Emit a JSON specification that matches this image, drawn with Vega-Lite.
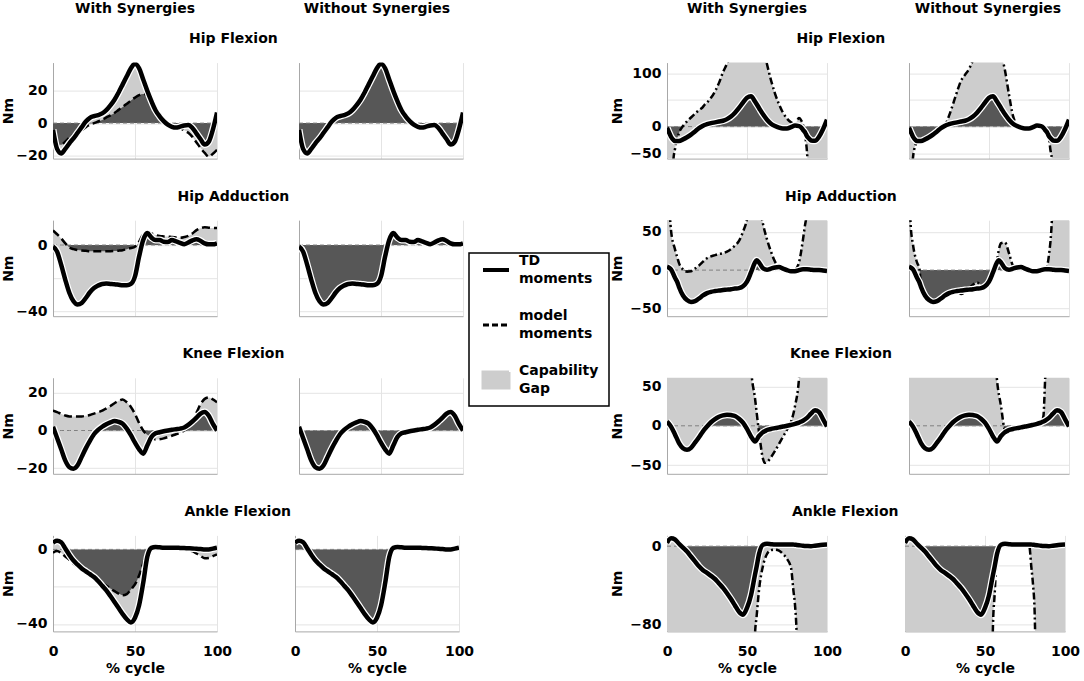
{
  "$schema": "https://vega.github.io/schema/vega-lite/v6.json",
  "background": "white",
  "padding": {"top": 2, "left": 1, "right": 0, "bottom": 0},
  "spacing": 136,
  "hconcat": [
    {
      "spacing": 15.6,
      "vconcat": [
        {
          "spacing": 78,
          "hconcat": [
            {"title": {"text": "With Synergies", "offset": -4}, "width": 164, "height": 1, "data": {"values": [{}]}, "mark": {"type": "rect", "opacity": 0}},
            {"title": {"text": "Without Synergies", "offset": -4}, "width": 164, "height": 1, "data": {"values": [{}]}, "mark": {"type": "rect", "opacity": 0}}
          ]
        },
        {
          "title": "Hip Flexion",
          "spacing": 78,
          "hconcat": [
            {
              "width": 164, "height": 96, "data": {"name": "hfA"},
              "encoding": {
                "x": {"field": "x", "type": "quantitative", "scale": {"domain": [0, 100], "nice": false}, "axis": {"values": [0, 50, 100], "labels": false, "title": null, "ticks": true, "tickSize": 15, "tickOpacity": 0}},
                "y": {"field": "td", "type": "quantitative", "scale": {"domain": [-22, 37.5], "nice": false, "zero": false}, "axis": {"values": [-20, 0, 20], "title": "Nm"}}
              },
              "layer": [
                {"mark": {"type": "area", "interpolate": "monotone", "color": "#575757", "clip": true}, "encoding": {"y2": {"datum": 0}}},
                {"transform": [{"filter": "isValid(datum.w)"}], "mark": {"type": "area", "interpolate": "monotone", "clip": true, "opacity": 1},
                 "encoding": {"y2": {"field": "w"}, "color": {"datum": "Capability Gap",
                   "scale": {"domain": ["TD moments", "model moments", "Capability Gap"], "range": ["black", "black", "#cdcdcd"]},
                   "legend": {
                     "orient": "none", "legendX": 416, "legendY": 241, "title": null, "padding": 10, "rowPadding": 23,
                     "symbolSize": 676, "symbolOffset": 10, "labelOffset": 16, "labelFont": "DejaVu Sans", "labelFontSize": 14,
                     "labelFontWeight": "bold", "labelColor": "black", "labelLimit": 300, "strokeColor": "black", "fillColor": "white",
                     "encoding": {
                       "legend": {"strokeWidth": {"value": 1.5}},
                       "symbols": {
                         "shape": {"value": {"expr": "datum.value === 'Capability Gap' ? 'M-1,-0.62H1V0.62H-1Z' : 'stroke'"}},
                         "fill": {"value": {"expr": "datum.value === 'Capability Gap' ? '#d0d1c9' : 'transparent'"}},
                         "stroke": {"value": {"expr": "datum.value === 'Capability Gap' ? 'transparent' : 'black'"}},
                         "strokeWidth": {"value": {"expr": "datum.value === 'TD moments' ? 4 : 3"}},
                         "strokeDash": {"value": {"expr": "datum.value === 'model moments' ? [6, 3] : [1, 0]"}},
                         "opacity": {"value": 1}
                       },
                       "labels": {"text": {"value": {"expr": "split(datum.label, ' ')"}}, "lineHeight": {"value": 18}, "dy": {"value": -9}}
                     }
                   }}}},
                {"mark": {"type": "line", "color": "#808080", "strokeWidth": 1, "strokeDash": [4, 3]}, "encoding": {"y": {"datum": 0}}},
                {"transform": [{"filter": "isValid(datum.w)"}], "mark": {"type": "line", "interpolate": "monotone", "strokeWidth": 2.5, "strokeDash": [8, 4], "clip": true},
                 "encoding": {"y": {"field": "w", "type": "quantitative", "scale": {"domain": [-22, 37.5], "nice": false, "zero": false}}, "color": {"datum": "model moments"}}},
                {"mark": {"type": "line", "interpolate": "monotone", "strokeWidth": 7, "color": "white", "clip": true}},
                {"mark": {"type": "line", "interpolate": "monotone", "strokeWidth": 4.5, "clip": true}, "encoding": {"color": {"datum": "TD moments"}}}
              ]
            },
            {
              "width": 164, "height": 96, "data": {"name": "hfA"},
              "encoding": {
                "x": {"field": "x", "type": "quantitative", "scale": {"domain": [0, 100], "nice": false}, "axis": {"values": [0, 50, 100], "labels": false, "title": null, "ticks": true, "tickSize": 15, "tickOpacity": 0}},
                "y": {"field": "td", "type": "quantitative", "scale": {"domain": [-22, 37.5], "nice": false, "zero": false}, "axis": {"values": [-20, 0, 20], "labels": false, "title": null}}
              },
              "layer": [
                {"mark": {"type": "area", "interpolate": "monotone", "color": "#575757", "clip": true}, "encoding": {"y2": {"datum": 0}}},
                {"mark": {"type": "line", "color": "#808080", "strokeWidth": 1, "strokeDash": [4, 3]}, "encoding": {"y": {"datum": 0}}},
                {"mark": {"type": "line", "interpolate": "monotone", "strokeWidth": 7, "color": "white", "clip": true}},
                {"mark": {"type": "line", "interpolate": "monotone", "strokeWidth": 4.5, "clip": true}, "encoding": {"color": {"datum": "TD moments"}}}
              ]
            }
          ]
        },
        {
          "title": "Hip Adduction",
          "spacing": 78,
          "hconcat": [
            {
              "width": 164, "height": 96, "data": {"name": "haA"},
              "encoding": {
                "x": {"field": "x", "type": "quantitative", "scale": {"domain": [0, 100], "nice": false}, "axis": {"values": [0, 50, 100], "labels": false, "title": null, "ticks": true, "tickSize": 15, "tickOpacity": 0}},
                "y": {"field": "td", "type": "quantitative", "scale": {"domain": [-43, 15], "nice": false, "zero": false}, "axis": {"values": [-40, -20, 0], "labelExpr": "datum.value == -20 ? '' : datum.label", "title": "Nm"}}
              },
              "layer": [
                {"mark": {"type": "area", "interpolate": "monotone", "color": "#575757", "clip": true}, "encoding": {"y2": {"datum": 0}}},
                {"transform": [{"filter": "isValid(datum.w)"}], "mark": {"type": "area", "interpolate": "monotone", "clip": true}, "encoding": {"y2": {"field": "w"}, "color": {"datum": "Capability Gap"}}},
                {"mark": {"type": "line", "color": "#808080", "strokeWidth": 1, "strokeDash": [4, 3]}, "encoding": {"y": {"datum": 0}}},
                {"transform": [{"filter": "isValid(datum.w)"}], "mark": {"type": "line", "interpolate": "monotone", "strokeWidth": 2.5, "strokeDash": [8, 4], "clip": true},
                 "encoding": {"y": {"field": "w", "type": "quantitative", "scale": {"domain": [-43, 15], "nice": false, "zero": false}}, "color": {"datum": "model moments"}}},
                {"mark": {"type": "line", "interpolate": "monotone", "strokeWidth": 7, "color": "white", "clip": true}},
                {"mark": {"type": "line", "interpolate": "monotone", "strokeWidth": 4.5, "clip": true}, "encoding": {"color": {"datum": "TD moments"}}}
              ]
            },
            {
              "width": 164, "height": 96, "data": {"name": "haA"},
              "encoding": {
                "x": {"field": "x", "type": "quantitative", "scale": {"domain": [0, 100], "nice": false}, "axis": {"values": [0, 50, 100], "labels": false, "title": null, "ticks": true, "tickSize": 15, "tickOpacity": 0}},
                "y": {"field": "td", "type": "quantitative", "scale": {"domain": [-43, 15], "nice": false, "zero": false}, "axis": {"values": [-40, -20, 0], "labels": false, "title": null}}
              },
              "layer": [
                {"mark": {"type": "area", "interpolate": "monotone", "color": "#575757", "clip": true}, "encoding": {"y2": {"datum": 0}}},
                {"mark": {"type": "line", "color": "#808080", "strokeWidth": 1, "strokeDash": [4, 3]}, "encoding": {"y": {"datum": 0}}},
                {"mark": {"type": "line", "interpolate": "monotone", "strokeWidth": 7, "color": "white", "clip": true}},
                {"mark": {"type": "line", "interpolate": "monotone", "strokeWidth": 4.5, "clip": true}, "encoding": {"color": {"datum": "TD moments"}}}
              ]
            }
          ]
        },
        {
          "title": "Knee Flexion",
          "spacing": 78,
          "hconcat": [
            {
              "width": 164, "height": 96, "data": {"name": "knA"},
              "encoding": {
                "x": {"field": "x", "type": "quantitative", "scale": {"domain": [0, 100], "nice": false}, "axis": {"values": [0, 50, 100], "labels": false, "title": null, "ticks": true, "tickSize": 15, "tickOpacity": 0}},
                "y": {"field": "td", "type": "quantitative", "scale": {"domain": [-23, 28], "nice": false, "zero": false}, "axis": {"values": [-20, 0, 20], "title": "Nm"}}
              },
              "layer": [
                {"mark": {"type": "area", "interpolate": "monotone", "color": "#575757", "clip": true}, "encoding": {"y2": {"datum": 0}}},
                {"transform": [{"filter": "isValid(datum.w)"}], "mark": {"type": "area", "interpolate": "monotone", "clip": true}, "encoding": {"y2": {"field": "w"}, "color": {"datum": "Capability Gap"}}},
                {"mark": {"type": "line", "color": "#808080", "strokeWidth": 1, "strokeDash": [4, 3]}, "encoding": {"y": {"datum": 0}}},
                {"transform": [{"filter": "isValid(datum.w)"}], "mark": {"type": "line", "interpolate": "monotone", "strokeWidth": 2.5, "strokeDash": [8, 4], "clip": true},
                 "encoding": {"y": {"field": "w", "type": "quantitative", "scale": {"domain": [-23, 28], "nice": false, "zero": false}}, "color": {"datum": "model moments"}}},
                {"mark": {"type": "line", "interpolate": "monotone", "strokeWidth": 7, "color": "white", "clip": true}},
                {"mark": {"type": "line", "interpolate": "monotone", "strokeWidth": 4.5, "clip": true}, "encoding": {"color": {"datum": "TD moments"}}}
              ]
            },
            {
              "width": 164, "height": 96, "data": {"name": "knA"},
              "encoding": {
                "x": {"field": "x", "type": "quantitative", "scale": {"domain": [0, 100], "nice": false}, "axis": {"values": [0, 50, 100], "labels": false, "title": null, "ticks": true, "tickSize": 15, "tickOpacity": 0}},
                "y": {"field": "td", "type": "quantitative", "scale": {"domain": [-23, 28], "nice": false, "zero": false}, "axis": {"values": [-20, 0, 20], "labels": false, "title": null}}
              },
              "layer": [
                {"mark": {"type": "area", "interpolate": "monotone", "color": "#575757", "clip": true}, "encoding": {"y2": {"datum": 0}}},
                {"mark": {"type": "line", "color": "#808080", "strokeWidth": 1, "strokeDash": [4, 3]}, "encoding": {"y": {"datum": 0}}},
                {"mark": {"type": "line", "interpolate": "monotone", "strokeWidth": 7, "color": "white", "clip": true}},
                {"mark": {"type": "line", "interpolate": "monotone", "strokeWidth": 4.5, "clip": true}, "encoding": {"color": {"datum": "TD moments"}}}
              ]
            }
          ]
        },
        {
          "title": "Ankle Flexion",
          "spacing": 58,
          "hconcat": [
            {
              "width": 164, "height": 96, "data": {"name": "anA"},
              "encoding": {
                "x": {"field": "x", "type": "quantitative", "scale": {"domain": [0, 100], "nice": false}, "axis": {"values": [0, 50, 100], "title": "% cycle", "labelFlush": false}},
                "y": {"field": "td", "type": "quantitative", "scale": {"domain": [-44, 7.5], "nice": false, "zero": false}, "axis": {"values": [-40, -20, 0], "labelExpr": "datum.value == -20 ? '' : datum.label", "title": "Nm"}}
              },
              "layer": [
                {"mark": {"type": "area", "interpolate": "monotone", "color": "#575757", "clip": true}, "encoding": {"y2": {"datum": 0}}},
                {"transform": [{"filter": "isValid(datum.w)"}], "mark": {"type": "area", "interpolate": "monotone", "clip": true}, "encoding": {"y2": {"field": "w"}, "color": {"datum": "Capability Gap"}}},
                {"mark": {"type": "line", "color": "#808080", "strokeWidth": 1, "strokeDash": [4, 3]}, "encoding": {"y": {"datum": 0}}},
                {"transform": [{"filter": "isValid(datum.w)"}], "mark": {"type": "line", "interpolate": "monotone", "strokeWidth": 2.5, "strokeDash": [8, 4], "clip": true},
                 "encoding": {"y": {"field": "w", "type": "quantitative", "scale": {"domain": [-44, 7.5], "nice": false, "zero": false}}, "color": {"datum": "model moments"}}},
                {"mark": {"type": "line", "interpolate": "monotone", "strokeWidth": 7, "color": "white", "clip": true}},
                {"mark": {"type": "line", "interpolate": "monotone", "strokeWidth": 4.5, "clip": true}, "encoding": {"color": {"datum": "TD moments"}}}
              ]
            },
            {
              "width": 164, "height": 96, "data": {"name": "anA"},
              "encoding": {
                "x": {"field": "x", "type": "quantitative", "scale": {"domain": [0, 100], "nice": false}, "axis": {"values": [0, 50, 100], "title": "% cycle", "labelFlush": false}},
                "y": {"field": "td", "type": "quantitative", "scale": {"domain": [-44, 7.5], "nice": false, "zero": false}, "axis": {"values": [-40, -20, 0], "labels": false, "title": null}}
              },
              "layer": [
                {"mark": {"type": "area", "interpolate": "monotone", "color": "#575757", "clip": true}, "encoding": {"y2": {"datum": 0}}},
                {"mark": {"type": "line", "color": "#808080", "strokeWidth": 1, "strokeDash": [4, 3]}, "encoding": {"y": {"datum": 0}}},
                {"mark": {"type": "line", "interpolate": "monotone", "strokeWidth": 7, "color": "white", "clip": true}},
                {"mark": {"type": "line", "interpolate": "monotone", "strokeWidth": 4.5, "clip": true}, "encoding": {"color": {"datum": "TD moments"}}}
              ]
            }
          ]
        }
      ]
    },
    {
      "spacing": 15.6,
      "vconcat": [
        {
          "spacing": 81,
          "hconcat": [
            {"title": {"text": "With Synergies", "offset": -4}, "width": 160, "height": 1, "data": {"values": [{}]}, "mark": {"type": "rect", "opacity": 0}},
            {"title": {"text": "Without Synergies", "offset": -4}, "width": 160, "height": 1, "data": {"values": [{}]}, "mark": {"type": "rect", "opacity": 0}}
          ]
        },
        {
          "title": "Hip Flexion",
          "spacing": 78,
          "hconcat": [
            {
              "width": 160, "height": 96, "data": {"name": "hfB"},
              "encoding": {
                "x": {"field": "x", "type": "quantitative", "scale": {"domain": [0, 100], "nice": false}, "axis": {"values": [0, 50, 100], "labels": false, "title": null, "ticks": true, "tickSize": 15, "tickOpacity": 0}},
                "y": {"field": "td", "type": "quantitative", "scale": {"domain": [-60, 120], "nice": false, "zero": false}, "axis": {"values": [-50, 0, 50, 100], "labelExpr": "datum.value == 50 ? '' : datum.label", "title": "Nm", "titlePadding": 5}}
              },
              "layer": [
                {"mark": {"type": "area", "interpolate": "monotone", "color": "#575757", "clip": true}, "encoding": {"y2": {"datum": 0}}},
                {"transform": [{"filter": "isValid(datum.w)"}], "mark": {"type": "area", "interpolate": "monotone", "clip": true}, "encoding": {"y2": {"field": "w"}, "color": {"datum": "Capability Gap"}}},
                {"mark": {"type": "line", "color": "#808080", "strokeWidth": 1, "strokeDash": [4, 3]}, "encoding": {"y": {"datum": 0}}},
                {"transform": [{"filter": "isValid(datum.w)"}], "mark": {"type": "line", "interpolate": "monotone", "strokeWidth": 2.5, "strokeDash": [7, 3, 2, 3], "clip": true},
                 "encoding": {"y": {"field": "w", "type": "quantitative", "scale": {"domain": [-60, 120], "nice": false, "zero": false}}, "color": {"datum": "model moments"}}},
                {"mark": {"type": "line", "interpolate": "monotone", "strokeWidth": 7, "color": "white", "clip": true}},
                {"mark": {"type": "line", "interpolate": "monotone", "strokeWidth": 4.5, "clip": true}, "encoding": {"color": {"datum": "TD moments"}}}
              ]
            },
            {
              "width": 160, "height": 96, "data": {"name": "hfB"},
              "encoding": {
                "x": {"field": "x", "type": "quantitative", "scale": {"domain": [0, 100], "nice": false}, "axis": {"values": [0, 50, 100], "labels": false, "title": null, "ticks": true, "tickSize": 15, "tickOpacity": 0}},
                "y": {"field": "td", "type": "quantitative", "scale": {"domain": [-60, 120], "nice": false, "zero": false}, "axis": {"values": [-50, 0, 50, 100], "labels": false, "title": null}}
              },
              "layer": [
                {"mark": {"type": "area", "interpolate": "monotone", "color": "#575757", "clip": true}, "encoding": {"y2": {"datum": 0}}},
                {"transform": [{"filter": "isValid(datum.wo)"}], "mark": {"type": "area", "interpolate": "monotone", "clip": true}, "encoding": {"y2": {"field": "wo"}, "color": {"datum": "Capability Gap"}}},
                {"mark": {"type": "line", "color": "#808080", "strokeWidth": 1, "strokeDash": [4, 3]}, "encoding": {"y": {"datum": 0}}},
                {"transform": [{"filter": "isValid(datum.wo)"}], "mark": {"type": "line", "interpolate": "monotone", "strokeWidth": 2.5, "strokeDash": [7, 3, 2, 3], "clip": true},
                 "encoding": {"y": {"field": "wo", "type": "quantitative", "scale": {"domain": [-60, 120], "nice": false, "zero": false}}, "color": {"datum": "model moments"}}},
                {"mark": {"type": "line", "interpolate": "monotone", "strokeWidth": 7, "color": "white", "clip": true}},
                {"mark": {"type": "line", "interpolate": "monotone", "strokeWidth": 4.5, "clip": true}, "encoding": {"color": {"datum": "TD moments"}}}
              ]
            }
          ]
        },
        {
          "title": "Hip Adduction",
          "spacing": 78,
          "hconcat": [
            {
              "width": 160, "height": 96, "data": {"name": "haB"},
              "encoding": {
                "x": {"field": "x", "type": "quantitative", "scale": {"domain": [0, 100], "nice": false}, "axis": {"values": [0, 50, 100], "labels": false, "title": null, "ticks": true, "tickSize": 15, "tickOpacity": 0}},
                "y": {"field": "td", "type": "quantitative", "scale": {"domain": [-60, 65], "nice": false, "zero": false}, "axis": {"values": [-50, 0, 50], "title": "Nm", "titlePadding": 5}}
              },
              "layer": [
                {"mark": {"type": "area", "interpolate": "monotone", "color": "#575757", "clip": true}, "encoding": {"y2": {"datum": 0}}},
                {"transform": [{"filter": "isValid(datum.w)"}], "mark": {"type": "area", "interpolate": "monotone", "clip": true}, "encoding": {"y2": {"field": "w"}, "color": {"datum": "Capability Gap"}}},
                {"mark": {"type": "line", "color": "#808080", "strokeWidth": 1, "strokeDash": [4, 3]}, "encoding": {"y": {"datum": 0}}},
                {"transform": [{"filter": "isValid(datum.w)"}], "mark": {"type": "line", "interpolate": "monotone", "strokeWidth": 2.5, "strokeDash": [7, 3, 2, 3], "clip": true},
                 "encoding": {"y": {"field": "w", "type": "quantitative", "scale": {"domain": [-60, 65], "nice": false, "zero": false}}, "color": {"datum": "model moments"}}},
                {"mark": {"type": "line", "interpolate": "monotone", "strokeWidth": 7, "color": "white", "clip": true}},
                {"mark": {"type": "line", "interpolate": "monotone", "strokeWidth": 4.5, "clip": true}, "encoding": {"color": {"datum": "TD moments"}}}
              ]
            },
            {
              "width": 160, "height": 96, "data": {"name": "haB"},
              "encoding": {
                "x": {"field": "x", "type": "quantitative", "scale": {"domain": [0, 100], "nice": false}, "axis": {"values": [0, 50, 100], "labels": false, "title": null, "ticks": true, "tickSize": 15, "tickOpacity": 0}},
                "y": {"field": "td", "type": "quantitative", "scale": {"domain": [-60, 65], "nice": false, "zero": false}, "axis": {"values": [-50, 0, 50], "labels": false, "title": null}}
              },
              "layer": [
                {"mark": {"type": "area", "interpolate": "monotone", "color": "#575757", "clip": true}, "encoding": {"y2": {"datum": 0}}},
                {"transform": [{"filter": "isValid(datum.wo)"}], "mark": {"type": "area", "interpolate": "monotone", "clip": true}, "encoding": {"y2": {"field": "wo"}, "color": {"datum": "Capability Gap"}}},
                {"mark": {"type": "line", "color": "#808080", "strokeWidth": 1, "strokeDash": [4, 3]}, "encoding": {"y": {"datum": 0}}},
                {"transform": [{"filter": "isValid(datum.wo)"}], "mark": {"type": "line", "interpolate": "monotone", "strokeWidth": 2.5, "strokeDash": [7, 3, 2, 3], "clip": true},
                 "encoding": {"y": {"field": "wo", "type": "quantitative", "scale": {"domain": [-60, 65], "nice": false, "zero": false}}, "color": {"datum": "model moments"}}},
                {"mark": {"type": "line", "interpolate": "monotone", "strokeWidth": 7, "color": "white", "clip": true}},
                {"mark": {"type": "line", "interpolate": "monotone", "strokeWidth": 4.5, "clip": true}, "encoding": {"color": {"datum": "TD moments"}}}
              ]
            }
          ]
        },
        {
          "title": "Knee Flexion",
          "spacing": 78,
          "hconcat": [
            {
              "width": 160, "height": 96, "data": {"name": "knB"},
              "encoding": {
                "x": {"field": "x", "type": "quantitative", "scale": {"domain": [0, 100], "nice": false}, "axis": {"values": [0, 50, 100], "labels": false, "title": null, "ticks": true, "tickSize": 15, "tickOpacity": 0}},
                "y": {"field": "td", "type": "quantitative", "scale": {"domain": [-61, 61], "nice": false, "zero": false}, "axis": {"values": [-50, 0, 50], "title": "Nm", "titlePadding": 5}}
              },
              "layer": [
                {"mark": {"type": "area", "interpolate": "monotone", "color": "#575757", "clip": true}, "encoding": {"y2": {"datum": 0}}},
                {"transform": [{"filter": "isValid(datum.w)"}], "mark": {"type": "area", "interpolate": "monotone", "clip": true}, "encoding": {"y2": {"field": "w"}, "color": {"datum": "Capability Gap"}}},
                {"mark": {"type": "line", "color": "#808080", "strokeWidth": 1, "strokeDash": [4, 3]}, "encoding": {"y": {"datum": 0}}},
                {"transform": [{"filter": "isValid(datum.w)"}], "mark": {"type": "line", "interpolate": "monotone", "strokeWidth": 2.5, "strokeDash": [7, 3, 2, 3], "clip": true},
                 "encoding": {"y": {"field": "w", "type": "quantitative", "scale": {"domain": [-61, 61], "nice": false, "zero": false}}, "color": {"datum": "model moments"}}},
                {"mark": {"type": "line", "interpolate": "monotone", "strokeWidth": 7, "color": "white", "clip": true}},
                {"mark": {"type": "line", "interpolate": "monotone", "strokeWidth": 4.5, "clip": true}, "encoding": {"color": {"datum": "TD moments"}}}
              ]
            },
            {
              "width": 160, "height": 96, "data": {"name": "knB"},
              "encoding": {
                "x": {"field": "x", "type": "quantitative", "scale": {"domain": [0, 100], "nice": false}, "axis": {"values": [0, 50, 100], "labels": false, "title": null, "ticks": true, "tickSize": 15, "tickOpacity": 0}},
                "y": {"field": "td", "type": "quantitative", "scale": {"domain": [-61, 61], "nice": false, "zero": false}, "axis": {"values": [-50, 0, 50], "labels": false, "title": null}}
              },
              "layer": [
                {"mark": {"type": "area", "interpolate": "monotone", "color": "#575757", "clip": true}, "encoding": {"y2": {"datum": 0}}},
                {"transform": [{"filter": "isValid(datum.wo)"}], "mark": {"type": "area", "interpolate": "monotone", "clip": true}, "encoding": {"y2": {"field": "wo"}, "color": {"datum": "Capability Gap"}}},
                {"mark": {"type": "line", "color": "#808080", "strokeWidth": 1, "strokeDash": [4, 3]}, "encoding": {"y": {"datum": 0}}},
                {"transform": [{"filter": "isValid(datum.wo)"}], "mark": {"type": "line", "interpolate": "monotone", "strokeWidth": 2.5, "strokeDash": [7, 3, 2, 3], "clip": true},
                 "encoding": {"y": {"field": "wo", "type": "quantitative", "scale": {"domain": [-61, 61], "nice": false, "zero": false}}, "color": {"datum": "model moments"}}},
                {"mark": {"type": "line", "interpolate": "monotone", "strokeWidth": 7, "color": "white", "clip": true}},
                {"mark": {"type": "line", "interpolate": "monotone", "strokeWidth": 4.5, "clip": true}, "encoding": {"color": {"datum": "TD moments"}}}
              ]
            }
          ]
        },
        {
          "title": "Ankle Flexion",
          "spacing": 58,
          "hconcat": [
            {
              "width": 160, "height": 96, "data": {"name": "anB"},
              "encoding": {
                "x": {"field": "x", "type": "quantitative", "scale": {"domain": [0, 100], "nice": false}, "axis": {"values": [0, 50, 100], "title": "% cycle", "labelFlush": false}},
                "y": {"field": "td", "type": "quantitative", "scale": {"domain": [-87, 11], "nice": false, "zero": false}, "axis": {"values": [-80, -60, -40, -20, 0], "labelExpr": "datum.value == 0 || datum.value == -80 ? datum.label : ''", "title": "Nm", "titlePadding": 5}}
              },
              "layer": [
                {"mark": {"type": "area", "interpolate": "monotone", "color": "#575757", "clip": true}, "encoding": {"y2": {"datum": 0}}},
                {"transform": [{"filter": "isValid(datum.w)"}], "mark": {"type": "area", "interpolate": "monotone", "clip": true}, "encoding": {"y2": {"field": "w"}, "color": {"datum": "Capability Gap"}}},
                {"mark": {"type": "line", "color": "#808080", "strokeWidth": 1, "strokeDash": [4, 3]}, "encoding": {"y": {"datum": 0}}},
                {"transform": [{"filter": "isValid(datum.w)"}], "mark": {"type": "line", "interpolate": "monotone", "strokeWidth": 2.5, "strokeDash": [7, 3, 2, 3], "clip": true},
                 "encoding": {"y": {"field": "w", "type": "quantitative", "scale": {"domain": [-87, 11], "nice": false, "zero": false}}, "color": {"datum": "model moments"}}},
                {"mark": {"type": "line", "interpolate": "monotone", "strokeWidth": 7, "color": "white", "clip": true}},
                {"mark": {"type": "line", "interpolate": "monotone", "strokeWidth": 4.5, "clip": true}, "encoding": {"color": {"datum": "TD moments"}}}
              ]
            },
            {
              "width": 160, "height": 96, "data": {"name": "anB"},
              "encoding": {
                "x": {"field": "x", "type": "quantitative", "scale": {"domain": [0, 100], "nice": false}, "axis": {"values": [0, 50, 100], "title": "% cycle", "labelFlush": false}},
                "y": {"field": "td", "type": "quantitative", "scale": {"domain": [-87, 11], "nice": false, "zero": false}, "axis": {"values": [-80, -60, -40, -20, 0], "labels": false, "title": null}}
              },
              "layer": [
                {"mark": {"type": "area", "interpolate": "monotone", "color": "#575757", "clip": true}, "encoding": {"y2": {"datum": 0}}},
                {"transform": [{"filter": "isValid(datum.wo)"}], "mark": {"type": "area", "interpolate": "monotone", "clip": true}, "encoding": {"y2": {"field": "wo"}, "color": {"datum": "Capability Gap"}}},
                {"mark": {"type": "line", "color": "#808080", "strokeWidth": 1, "strokeDash": [4, 3]}, "encoding": {"y": {"datum": 0}}},
                {"transform": [{"filter": "isValid(datum.wo)"}], "mark": {"type": "line", "interpolate": "monotone", "strokeWidth": 2.5, "strokeDash": [7, 3, 2, 3], "clip": true},
                 "encoding": {"y": {"field": "wo", "type": "quantitative", "scale": {"domain": [-87, 11], "nice": false, "zero": false}}, "color": {"datum": "model moments"}}},
                {"mark": {"type": "line", "interpolate": "monotone", "strokeWidth": 7, "color": "white", "clip": true}},
                {"mark": {"type": "line", "interpolate": "monotone", "strokeWidth": 4.5, "clip": true}, "encoding": {"color": {"datum": "TD moments"}}}
              ]
            }
          ]
        }
      ]
    }
  ],
  "config": {
    "view": {"stroke": null},
    "font": "DejaVu Sans",
    "axis": {
      "grid": true, "gridColor": "#e4e4e4", "gridWidth": 1, "domainColor": "#a8a8a8", "domainWidth": 1, "ticks": false,
      "labelFont": "DejaVu Sans", "labelFontWeight": "bold", "labelFontSize": 14, "labelColor": "black",
      "titleFont": "DejaVu Sans", "titleFontWeight": "bold", "titleFontSize": 14, "titleColor": "black"
    },
    "axisY": {"labelPadding": 6, "titlePadding": 0},
    "axisX": {"labelPadding": 13, "titlePadding": 3},
    "title": {"font": "DejaVu Sans", "fontSize": 14, "fontWeight": "bold", "color": "black", "anchor": "middle", "offset": 16.5, "baseline": "alphabetic"}
  },
  "datasets": {
    "hfA": [
      {"x": 0, "td": -4, "w": -11}, {"x": 2.5, "td": -16, "w": -13.5}, {"x": 5, "td": -18.8, "w": -13.4}, {"x": 7.5, "td": -16, "w": -11.5},
      {"x": 10, "td": -12.5, "w": -9}, {"x": 12.5, "td": -9.5, "w": -7.5}, {"x": 15, "td": -6, "w": -6}, {"x": 17.5, "td": -2.5, "w": -4.5},
      {"x": 20, "td": 1, "w": -2.5}, {"x": 22.5, "td": 3.3, "w": -1}, {"x": 25, "td": 4.3, "w": 0}, {"x": 27.5, "td": 5, "w": 1},
      {"x": 30, "td": 6, "w": 2}, {"x": 32.5, "td": 8, "w": 3.5}, {"x": 35, "td": 11, "w": 4.8}, {"x": 37.5, "td": 14.5, "w": 6.3},
      {"x": 40, "td": 19, "w": 8.2}, {"x": 42.5, "td": 24, "w": 10}, {"x": 45, "td": 29, "w": 12}, {"x": 47.5, "td": 34, "w": 14},
      {"x": 50, "td": 36.8, "w": 15.8}, {"x": 52.5, "td": 34, "w": 17.3}, {"x": 55, "td": 27, "w": 18}, {"x": 57.5, "td": 20, "w": 17.5},
      {"x": 60, "td": 13.6, "w": 14.6}, {"x": 62.5, "td": 8, "w": 10}, {"x": 65, "td": 4.2, "w": 6}, {"x": 67.5, "td": 1.2, "w": 2},
      {"x": 70, "td": -1, "w": -0.5}, {"x": 72.5, "td": -2.3, "w": -2}, {"x": 75, "td": -2.8, "w": -2.8}, {"x": 77.5, "td": -2.2, "w": -3.3},
      {"x": 80, "td": -1.5, "w": -4.5}, {"x": 82.5, "td": -1.2, "w": -6}, {"x": 85, "td": -3, "w": -8.5}, {"x": 87.5, "td": -6.5, "w": -12},
      {"x": 90, "td": -10, "w": -15.5}, {"x": 92.5, "td": -13.3, "w": -18.5}, {"x": 95, "td": -11.5, "w": -20.8}, {"x": 97.5, "td": -4, "w": -19},
      {"x": 100, "td": 6.5, "w": -16.5}
    ],
    "haA": [
      {"x": 0, "td": -1, "w": 8.8}, {"x": 2.5, "td": -4, "w": 6.5}, {"x": 5, "td": -12, "w": 4}, {"x": 7.5, "td": -21, "w": 1},
      {"x": 10, "td": -29, "w": -1.5}, {"x": 12.5, "td": -34, "w": -2.5}, {"x": 15, "td": -36, "w": -3}, {"x": 17.5, "td": -35, "w": -3.3},
      {"x": 20, "td": -32, "w": -3.5}, {"x": 22.5, "td": -28.5, "w": -3.7}, {"x": 25, "td": -26, "w": -3.7}, {"x": 27.5, "td": -24.5, "w": -3.7},
      {"x": 30, "td": -23.5, "w": -3.7}, {"x": 32.5, "td": -23.3, "w": -3.7}, {"x": 35, "td": -23.5, "w": -3.7}, {"x": 37.5, "td": -23.7, "w": -3.6},
      {"x": 40, "td": -24, "w": -3.4}, {"x": 42.5, "td": -24.3, "w": -3.1}, {"x": 45, "td": -24.3, "w": -2.5}, {"x": 47.5, "td": -23.5, "w": -1.8},
      {"x": 50, "td": -19, "w": -1}, {"x": 52.5, "td": -7, "w": 2}, {"x": 55, "td": 3, "w": 6.5}, {"x": 57.5, "td": 7.2, "w": 7.8},
      {"x": 60, "td": 4.5, "w": 7}, {"x": 62.5, "td": 3, "w": 6}, {"x": 65, "td": 3, "w": 5.4}, {"x": 67.5, "td": 2, "w": 5.2},
      {"x": 70, "td": 1.8, "w": 5.1}, {"x": 72.5, "td": 3, "w": 4.8}, {"x": 75, "td": 2.2, "w": 4.6}, {"x": 77.5, "td": 1.3, "w": 4.4},
      {"x": 80, "td": 0.5, "w": 4.8}, {"x": 82.5, "td": 1.5, "w": 5.5}, {"x": 85, "td": 2.8, "w": 7}, {"x": 87.5, "td": 3.5, "w": 9},
      {"x": 90, "td": 2.5, "w": 10.2}, {"x": 92.5, "td": 1, "w": 10.7}, {"x": 95, "td": 0.4, "w": 10.5}, {"x": 97.5, "td": 0.4, "w": 10.3},
      {"x": 100, "td": 1, "w": 10.3}
    ],
    "knA": [
      {"x": 0, "td": 2, "w": 10.6}, {"x": 2.5, "td": -4, "w": 9.8}, {"x": 5, "td": -10, "w": 8.8}, {"x": 7.5, "td": -16, "w": 8},
      {"x": 10, "td": -19.5, "w": 7.5}, {"x": 12.5, "td": -20.3, "w": 7.4}, {"x": 15, "td": -18.5, "w": 7.4}, {"x": 17.5, "td": -14, "w": 7.5},
      {"x": 20, "td": -9.5, "w": 7.8}, {"x": 22.5, "td": -5.5, "w": 8.2}, {"x": 25, "td": -2, "w": 9}, {"x": 27.5, "td": 0.3, "w": 9.7},
      {"x": 30, "td": 2, "w": 10.5}, {"x": 32.5, "td": 3.3, "w": 11.8}, {"x": 35, "td": 4.3, "w": 13}, {"x": 37.5, "td": 5, "w": 14.5},
      {"x": 40, "td": 4.6, "w": 15.8}, {"x": 42.5, "td": 3.6, "w": 16.5}, {"x": 45, "td": 1, "w": 15}, {"x": 47.5, "td": -2.5, "w": 12.5},
      {"x": 50, "td": -6.5, "w": 8.8}, {"x": 52.5, "td": -10, "w": 4}, {"x": 55, "td": -12.3, "w": 0}, {"x": 57.5, "td": -8, "w": -2.3},
      {"x": 60, "td": -3.5, "w": -3.5}, {"x": 62.5, "td": -1.5, "w": -4.8}, {"x": 65, "td": -0.9, "w": -4.6}, {"x": 67.5, "td": -0.4, "w": -4.2},
      {"x": 70, "td": 0, "w": -3.5}, {"x": 72.5, "td": 0.4, "w": -2.8}, {"x": 75, "td": 0.7, "w": -2}, {"x": 77.5, "td": 1, "w": -1.2},
      {"x": 80, "td": 1.6, "w": 0}, {"x": 82.5, "td": 3, "w": 1.5}, {"x": 85, "td": 4.8, "w": 5}, {"x": 87.5, "td": 6.8, "w": 9.5},
      {"x": 90, "td": 9, "w": 14}, {"x": 92.5, "td": 9.8, "w": 16.8}, {"x": 95, "td": 7.8, "w": 17.6}, {"x": 97.5, "td": 3.5, "w": 16.5},
      {"x": 100, "td": 0, "w": 15}
    ],
    "anA": [
      {"x": 0, "td": 3.6, "w": -1.8}, {"x": 2.5, "td": 4.6, "w": -0.9}, {"x": 5, "td": 3.8, "w": -2}, {"x": 7.5, "td": 0.5, "w": -3.8},
      {"x": 10, "td": -3, "w": -5.6}, {"x": 12.5, "td": -6, "w": -7.6}, {"x": 15, "td": -8.2, "w": -9.4}, {"x": 17.5, "td": -10.2, "w": -11},
      {"x": 20, "td": -11.8, "w": -12.2}, {"x": 22.5, "td": -13.3, "w": -13.6}, {"x": 25, "td": -14.8, "w": -15.2}, {"x": 27.5, "td": -17, "w": -16.6},
      {"x": 30, "td": -19.5, "w": -18}, {"x": 32.5, "td": -22, "w": -19.5}, {"x": 35, "td": -25, "w": -21}, {"x": 37.5, "td": -28.2, "w": -22.4},
      {"x": 40, "td": -31.5, "w": -23.7}, {"x": 42.5, "td": -34.7, "w": -24.6}, {"x": 45, "td": -37.5, "w": -24}, {"x": 47.5, "td": -39.2, "w": -21.5},
      {"x": 50, "td": -36.7, "w": -18.8}, {"x": 52.5, "td": -30, "w": -14}, {"x": 55, "td": -18, "w": -7.5}, {"x": 57.5, "td": -4, "w": -2.5},
      {"x": 60, "td": 0.8, "w": 0}, {"x": 62.5, "td": 1.3, "w": 0.8}, {"x": 65, "td": 1.1, "w": 0.7}, {"x": 67.5, "td": 0.9, "w": 0.5},
      {"x": 70, "td": 0.9, "w": 0.5}, {"x": 72.5, "td": 0.9, "w": 0.5}, {"x": 75, "td": 0.9, "w": 0.5}, {"x": 77.5, "td": 0.8, "w": 0.3},
      {"x": 80, "td": 0.7, "w": 0}, {"x": 82.5, "td": 0.6, "w": -0.5}, {"x": 85, "td": 0.5, "w": -0.9}, {"x": 87.5, "td": 0.3, "w": -2.2},
      {"x": 90, "td": 0.2, "w": -3.5}, {"x": 92.5, "td": 0, "w": -4.8}, {"x": 95, "td": 0, "w": -4.6}, {"x": 97.5, "td": 0.4, "w": -3.6},
      {"x": 100, "td": 0.9, "w": -2.7}
    ],
    "hfB": [
      {"x": 0, "td": -2, "w": -400, "wo": -400}, {"x": 1, "td": -9, "w": -300, "wo": -150}, {"x": 2.5, "td": -19, "w": -160, "wo": -58},
      {"x": 4, "td": -25, "w": -62, "wo": -35}, {"x": 5, "td": -27, "w": -42, "wo": -29}, {"x": 7.5, "td": -27, "w": -12, "wo": -27},
      {"x": 10, "td": -24, "w": 1, "wo": -24}, {"x": 12.5, "td": -20, "w": 10, "wo": -20}, {"x": 15, "td": -15, "w": 17, "wo": -15},
      {"x": 17.5, "td": -9, "w": 24, "wo": -9}, {"x": 20, "td": -3, "w": 31, "wo": -3}, {"x": 22.5, "td": 1.5, "w": 37, "wo": 1.5},
      {"x": 23.5, "td": 3, "w": 41, "wo": 8}, {"x": 25, "td": 4.5, "w": 45, "wo": 20}, {"x": 27.5, "td": 6.5, "w": 54, "wo": 42},
      {"x": 30, "td": 8, "w": 66, "wo": 65}, {"x": 32.5, "td": 9.5, "w": 82, "wo": 86}, {"x": 35, "td": 11, "w": 102, "wo": 97},
      {"x": 37.5, "td": 14, "w": 118, "wo": 108}, {"x": 40, "td": 19, "w": 140, "wo": 125}, {"x": 42.5, "td": 26, "w": 170, "wo": 150},
      {"x": 45, "td": 35, "w": 200, "wo": 180}, {"x": 47.5, "td": 45, "w": 220, "wo": 205}, {"x": 50, "td": 54, "w": 230, "wo": 220},
      {"x": 52.5, "td": 57, "w": 220, "wo": 210}, {"x": 55, "td": 47, "w": 190, "wo": 185}, {"x": 57.5, "td": 35, "w": 165, "wo": 140},
      {"x": 60, "td": 23, "w": 150, "wo": 105}, {"x": 62.5, "td": 13, "w": 117, "wo": 60}, {"x": 65, "td": 5.5, "w": 87, "wo": 20},
      {"x": 67.5, "td": 1, "w": 62, "wo": 3}, {"x": 70, "td": -2, "w": 42, "wo": -2}, {"x": 72.5, "td": -3.5, "w": 26, "wo": -3.5},
      {"x": 75, "td": -3.5, "w": 15, "wo": -3.5}, {"x": 77.5, "td": -1, "w": 8, "wo": -1}, {"x": 80, "td": 2, "w": 4.5, "wo": 2},
      {"x": 82.5, "td": 1, "w": 16, "wo": 1}, {"x": 84, "td": -2, "w": 11, "wo": -2}, {"x": 85, "td": -6, "w": 3, "wo": -6},
      {"x": 86.5, "td": -12, "w": -20, "wo": -10}, {"x": 87.5, "td": -18, "w": -48, "wo": -20}, {"x": 88.3, "td": -21, "w": -90, "wo": -42},
      {"x": 89.3, "td": -24, "w": -150, "wo": -62}, {"x": 90, "td": -26, "w": -200, "wo": -100}, {"x": 92.5, "td": -26.5, "w": -300, "wo": -250},
      {"x": 95, "td": -19, "w": -350, "wo": -350}, {"x": 97.5, "td": -5, "w": -380, "wo": -380}, {"x": 100, "td": 13, "w": -400, "wo": -400}
    ],
    "haB": [
      {"x": 0, "td": 4.4, "w": 150, "wo": 150}, {"x": 1, "td": 3.5, "w": 100, "wo": 60}, {"x": 2.5, "td": 1, "w": 52, "wo": 33},
      {"x": 5, "td": -10, "w": 27, "wo": 10}, {"x": 6.5, "td": -16, "w": 16, "wo": 2}, {"x": 7.5, "td": -22, "w": 9, "wo": -20},
      {"x": 10, "td": -33, "w": 1, "wo": -33}, {"x": 12.5, "td": -39, "w": -2, "wo": -39}, {"x": 15, "td": -41.5, "w": -1.5, "wo": -41.5},
      {"x": 17.5, "td": -40.5, "w": 2, "wo": -40.5}, {"x": 20, "td": -37, "w": 6, "wo": -37}, {"x": 22.5, "td": -33, "w": 11, "wo": -33},
      {"x": 25, "td": -30, "w": 15.5, "wo": -30}, {"x": 27.5, "td": -28.3, "w": 18, "wo": -28.3}, {"x": 30, "td": -27.3, "w": 19.5, "wo": -28},
      {"x": 32.5, "td": -26.6, "w": 21, "wo": -31}, {"x": 35, "td": -26, "w": 22, "wo": -29}, {"x": 37.5, "td": -25.4, "w": 24, "wo": -24},
      {"x": 40, "td": -24.8, "w": 27.5, "wo": -19}, {"x": 42.5, "td": -24, "w": 32, "wo": -16}, {"x": 45, "td": -23.4, "w": 38, "wo": -19},
      {"x": 47.5, "td": -21, "w": 50, "wo": -21}, {"x": 50, "td": -15, "w": 66, "wo": -15}, {"x": 52.5, "td": -3, "w": 100, "wo": -3},
      {"x": 55, "td": 10, "w": 120, "wo": 12}, {"x": 56, "td": 13, "w": 110, "wo": 25}, {"x": 57.5, "td": 10, "w": 88, "wo": 35},
      {"x": 60, "td": 2.5, "w": 60, "wo": 36}, {"x": 62.5, "td": 0.5, "w": 40, "wo": 22}, {"x": 65, "td": 2, "w": 24, "wo": 6},
      {"x": 67.5, "td": 3.5, "w": 11, "wo": 3.5}, {"x": 70, "td": 4, "w": 3, "wo": 4}, {"x": 72.5, "td": 2, "w": 0.5, "wo": 2},
      {"x": 75, "td": 0, "w": -0.5, "wo": 0}, {"x": 77.5, "td": -1.5, "w": -2, "wo": -1.5}, {"x": 80, "td": -1.5, "w": 0, "wo": -1.5},
      {"x": 82.5, "td": 0, "w": 10, "wo": 0}, {"x": 85, "td": 1, "w": 40, "wo": 1}, {"x": 86, "td": 1, "w": 55, "wo": 3},
      {"x": 87.5, "td": 1, "w": 75, "wo": 20}, {"x": 89.3, "td": 0.7, "w": 120, "wo": 65}, {"x": 90, "td": 0.5, "w": 150, "wo": 100},
      {"x": 92.5, "td": 0, "w": 250, "wo": 250}, {"x": 95, "td": 0, "w": 300, "wo": 300}, {"x": 97.5, "td": -0.5, "w": 300, "wo": 300},
      {"x": 100, "td": -1, "w": 300, "wo": 300}
    ],
    "knB": [
      {"x": 0, "td": 5.5, "w": 200, "wo": 200}, {"x": 2.5, "td": -1, "w": 200, "wo": 200}, {"x": 5, "td": -11, "w": 200, "wo": 200},
      {"x": 7.5, "td": -22, "w": 200, "wo": 200}, {"x": 10, "td": -28.5, "w": 200, "wo": 200}, {"x": 12.5, "td": -30.5, "w": 200, "wo": 200},
      {"x": 15, "td": -28, "w": 200, "wo": 200}, {"x": 17.5, "td": -21.5, "w": 200, "wo": 200}, {"x": 20, "td": -14.5, "w": 200, "wo": 200},
      {"x": 22.5, "td": -7, "w": 200, "wo": 200}, {"x": 25, "td": -1, "w": 200, "wo": 200}, {"x": 27.5, "td": 4.5, "w": 200, "wo": 200},
      {"x": 30, "td": 8.5, "w": 200, "wo": 200}, {"x": 32.5, "td": 11.5, "w": 200, "wo": 200}, {"x": 35, "td": 13.2, "w": 200, "wo": 200},
      {"x": 37.5, "td": 14, "w": 200, "wo": 200}, {"x": 40, "td": 13.6, "w": 200, "wo": 200}, {"x": 42.5, "td": 12.5, "w": 200, "wo": 200},
      {"x": 45, "td": 9, "w": 200, "wo": 200}, {"x": 47.5, "td": 4, "w": 200, "wo": 200}, {"x": 50, "td": -4, "w": 200, "wo": 200},
      {"x": 52.5, "td": -13.5, "w": 75, "wo": 130}, {"x": 55, "td": -20, "w": 35, "wo": 58}, {"x": 57.5, "td": -13, "w": -8, "wo": 25},
      {"x": 60, "td": -8, "w": -42, "wo": -6}, {"x": 61, "td": -7, "w": -47, "wo": -7}, {"x": 62.5, "td": -5.3, "w": -46, "wo": -5.3},
      {"x": 65, "td": -4, "w": -40, "wo": -4}, {"x": 67.5, "td": -3, "w": -32, "wo": -3}, {"x": 70, "td": -2, "w": -23, "wo": -2},
      {"x": 72.5, "td": -0.9, "w": -14, "wo": -0.9}, {"x": 75, "td": 0, "w": -5, "wo": 0}, {"x": 77.5, "td": 1.2, "w": 5, "wo": 1.2},
      {"x": 80, "td": 2.5, "w": 25, "wo": 2.5}, {"x": 82.5, "td": 4, "w": 60, "wo": 4}, {"x": 84, "td": 5.5, "w": 110, "wo": 12},
      {"x": 85, "td": 6.5, "w": 150, "wo": 55}, {"x": 87.5, "td": 10, "w": 250, "wo": 200}, {"x": 90, "td": 15.5, "w": 300, "wo": 300},
      {"x": 92.5, "td": 19.8, "w": 300, "wo": 300}, {"x": 95, "td": 17.5, "w": 300, "wo": 300}, {"x": 97.5, "td": 8.5, "w": 300, "wo": 300},
      {"x": 100, "td": -0.8, "w": 300, "wo": 300}
    ],
    "anB": [
      {"x": 0, "td": 3.4, "w": -400, "wo": -400}, {"x": 2.5, "td": 8, "w": -400, "wo": -400}, {"x": 5, "td": 6.8, "w": -400, "wo": -400},
      {"x": 7.5, "td": 2.5, "w": -400, "wo": -400}, {"x": 10, "td": -1.5, "w": -400, "wo": -400}, {"x": 12.5, "td": -5.5, "w": -400, "wo": -400},
      {"x": 15, "td": -10.5, "w": -400, "wo": -400}, {"x": 17.5, "td": -15.5, "w": -400, "wo": -400}, {"x": 20, "td": -20.5, "w": -400, "wo": -400},
      {"x": 22.5, "td": -24.5, "w": -400, "wo": -400}, {"x": 25, "td": -27.3, "w": -400, "wo": -400}, {"x": 27.5, "td": -30.3, "w": -400, "wo": -400},
      {"x": 30, "td": -33.5, "w": -400, "wo": -400}, {"x": 32.5, "td": -38, "w": -400, "wo": -400}, {"x": 35, "td": -42.5, "w": -400, "wo": -400},
      {"x": 37.5, "td": -48, "w": -400, "wo": -400}, {"x": 40, "td": -54, "w": -400, "wo": -400}, {"x": 42.5, "td": -60.5, "w": -400, "wo": -400},
      {"x": 45, "td": -67, "w": -400, "wo": -400}, {"x": 47.5, "td": -70, "w": -400, "wo": -400}, {"x": 50, "td": -63, "w": -400, "wo": -400},
      {"x": 52.5, "td": -50, "w": -400, "wo": -400}, {"x": 55, "td": -29, "w": -90, "wo": -80}, {"x": 56, "td": -21, "w": -72, "wo": -50},
      {"x": 57.5, "td": -8, "w": -45, "wo": -8}, {"x": 60, "td": 1.5, "w": -20, "wo": 1.5}, {"x": 62.5, "td": 2.4, "w": -8, "wo": 2.4},
      {"x": 65, "td": 2, "w": -4, "wo": 2}, {"x": 67.5, "td": 1.7, "w": -3.5, "wo": 1.7}, {"x": 70, "td": 1.7, "w": -4.5, "wo": 1.7},
      {"x": 72.5, "td": 1.7, "w": -8, "wo": 1.7}, {"x": 75, "td": 1.7, "w": -13, "wo": 1.7}, {"x": 77.5, "td": 1.7, "w": -22, "wo": 1.7},
      {"x": 79, "td": 1.6, "w": -45, "wo": -22}, {"x": 80, "td": 1.5, "w": -60, "wo": -39}, {"x": 81, "td": 1.3, "w": -88, "wo": -66},
      {"x": 82.5, "td": 1, "w": -200, "wo": -200}, {"x": 85, "td": 0.5, "w": -400, "wo": -400}, {"x": 87.5, "td": 0.2, "w": -400, "wo": -400},
      {"x": 90, "td": 0, "w": -400, "wo": -400}, {"x": 92.5, "td": 0.5, "w": -400, "wo": -400}, {"x": 95, "td": 1, "w": -400, "wo": -400},
      {"x": 97.5, "td": 1.5, "w": -400, "wo": -400}, {"x": 100, "td": 1.7, "w": -400, "wo": -400}
    ]
  }
}
